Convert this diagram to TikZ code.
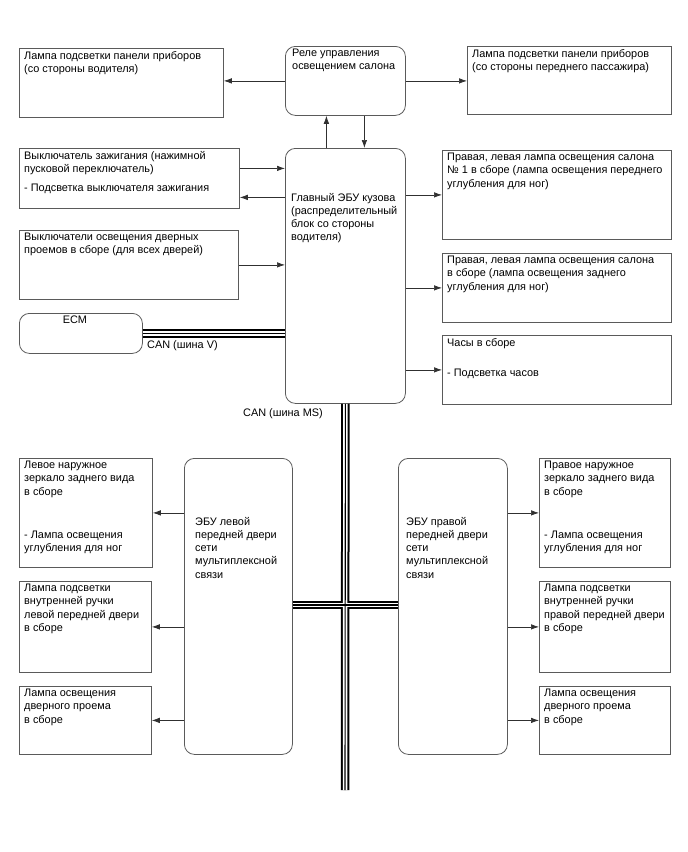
\documentclass[tikz,border=0pt]{standalone}
\usepackage{fontspec}
\setmainfont{Liberation Sans}
\usetikzlibrary{arrows.meta, positioning}
\definecolor{boxLine}{HTML}{5A5A5A}
\definecolor{wireDark}{HTML}{303030}

\begin{document}
\begin{tikzpicture}[
    x=1pt, y=-1pt,
    unit/.style={rectangle, draw=boxLine, line width=0.8pt, anchor=north west,
                 inner sep=0pt},
    ecu/.style={unit, rounded corners=10pt},
    txt/.style={anchor=north west, align=left, inner xsep=5pt, inner ysep=3pt,
                font=\fontsize{10.9}{13.2}\selectfont},
    feed/.style={draw=wireDark, line width=0.7pt, -{Latex[length=8pt, width=5.5pt]}},
    busOuter/.style={line width=8.5pt, black},
    busGap/.style={line width=4.5pt, white},
    busCore/.style={line width=1.1pt, black},
  ]
    \useasboundingbox (0,0) rectangle (688,852);

    % top row
    \node[unit, minimum width=204, minimum height=69,
          label={[txt]north west:{Лампа подсветки панели приборов\\(со стороны водителя)}}]
          (lampDrv) at (19,48) {};
    \node[ecu, minimum width=120, minimum height=69,
          label={[txt, xshift=2pt]north west:{Реле управления\\освещением салона}}]
          (relay) at (285,46) {};
    \node[unit, minimum width=204, minimum height=68,
          label={[txt]north west:{Лампа подсветки панели приборов\\(со стороны переднего пассажира)}}]
          (lampPas) at (467,46) {};

    % body ECU and its neighbours
    \node[ecu, minimum width=120, minimum height=255,
          label={[txt, xshift=1pt, yshift=-42pt]north west:{Главный ЭБУ кузова\\(распределительный\\блок со стороны\\водителя)}}]
          (bodyEcu) at (285,148) {};
    \node[unit, minimum width=220, minimum height=60,
          label={[txt]north west:{Выключатель зажигания (нажимной\\пусковой переключатель)\\[6pt]- Подсветка выключателя зажигания}}]
          (ignSw) at (19,148) {};
    \node[unit, minimum width=219, minimum height=69,
          label={[txt]north west:{Выключатели освещения дверных\\проемов в сборе (для всех дверей)}}]
          (doorSw) at (19,230) {};
    \node[ecu, minimum width=123, minimum height=40,
          label={[txt, anchor=north, xshift=-6pt]north:{ECM}}]
          (ecm) at (19,313) {};
    \node[unit, minimum width=229, minimum height=89,
          label={[txt]north west:{Правая, левая лампа освещения салона\\№ 1 в сборе (лампа освещения переднего\\углубления для ног)}}]
          (footF) at (442,150) {};
    \node[unit, minimum width=229, minimum height=69,
          label={[txt]north west:{Правая, левая лампа освещения салона\\в сборе (лампа освещения заднего\\углубления для ног)}}]
          (footR) at (442,253) {};
    \node[unit, minimum width=229, minimum height=69,
          label={[txt]north west:{Часы в сборе\\[17pt]- Подсветка часов}}]
          (clock) at (442,335) {};

    % door ECUs
    \node[ecu, minimum width=108, minimum height=296,
          label={[txt, xshift=6pt, yshift=-56pt]north west:{ЭБУ левой\\передней двери\\сети\\мультиплексной\\связи}}]
          (doorEcuL) at (184,458) {};
    \node[ecu, minimum width=109, minimum height=296,
          label={[txt, xshift=3pt, yshift=-56pt]north west:{ЭБУ правой\\передней двери\\сети\\мультиплексной\\связи}}]
          (doorEcuR) at (398,458) {};

    \node[unit, minimum width=133, minimum height=109,
          label={[txt]north west:{Левое наружное\\зеркало заднего вида\\в сборе\\[30pt]- Лампа освещения\\углубления для ног}}]
          (mirrorL) at (19,458) {};
    \node[unit, minimum width=132, minimum height=91,
          label={[txt]north west:{Лампа подсветки\\внутренней ручки\\левой передней двери\\в сборе}}]
          (handleL) at (19,581) {};
    \node[unit, minimum width=132, minimum height=68,
          label={[txt]north west:{Лампа освещения\\дверного проема\\в сборе}}]
          (courtesyL) at (19,686) {};
    \node[unit, minimum width=131, minimum height=109,
          label={[txt]north west:{Правое наружное\\зеркало заднего вида\\в сборе\\[30pt]- Лампа освещения\\углубления для ног}}]
          (mirrorR) at (539,458) {};
    \node[unit, minimum width=131, minimum height=91,
          label={[txt]north west:{Лампа подсветки\\внутренней ручки\\правой передней двери\\в сборе}}]
          (handleR) at (539,581) {};
    \node[unit, minimum width=131, minimum height=68,
          label={[txt]north west:{Лампа освещения\\дверного проема\\в сборе}}]
          (courtesyR) at (539,686) {};

    % buses
    \coordinate (busEnd) at (345,790);
    \coordinate (busX) at (345,605);
    \foreach \s in {busOuter, busGap, busCore} {
      \draw[\s] (ecm.east) -- (ecm.east -| bodyEcu.west);
      \draw[\s] (bodyEcu.south) -- (busEnd);
      \draw[\s] (doorEcuL.east |- busX) -- (doorEcuR.west |- busX);
    }
    \node[txt, inner ysep=0pt] (canV) at (142,340) {CAN (шина V)};
    \node[txt, anchor=north east, inner ysep=0pt] (canMS) at (328,408) {CAN (шина MS)};

    % signal lines
    \draw[feed] (relay.west) -- (relay.west -| lampDrv.east);
    \draw[feed] (relay.east) -- (relay.east -| lampPas.west);
    \draw[feed] ([xshift=-19pt]bodyEcu.north) -- ([xshift=-19pt]bodyEcu.north |- relay.south);
    \draw[feed] ([xshift=19pt]relay.south) -- ([xshift=19pt]relay.south |- bodyEcu.north);
    \draw[feed] ([yshift=10pt]ignSw.east) -- ([yshift=10pt]ignSw.east -| bodyEcu.west);
    \draw[feed] ([yshift=-19pt]ignSw.east -| bodyEcu.west) -- ([yshift=-19pt]ignSw.east);
    \draw[feed] (doorSw.east) -- (doorSw.east -| bodyEcu.west);
    \draw[feed] (footF.west -| bodyEcu.east) -- (footF.west);
    \draw[feed] (footR.west -| bodyEcu.east) -- (footR.west);
    \draw[feed] (clock.west -| bodyEcu.east) -- (clock.west);

    \draw[feed] (mirrorL.east -| doorEcuL.west) -- (mirrorL.east);
    \draw[feed] (handleL.east -| doorEcuL.west) -- (handleL.east);
    \draw[feed] (courtesyL.east -| doorEcuL.west) -- (courtesyL.east);
    \draw[feed] (mirrorR.west -| doorEcuR.east) -- (mirrorR.west);
    \draw[feed] (handleR.west -| doorEcuR.east) -- (handleR.west);
    \draw[feed] (courtesyR.west -| doorEcuR.east) -- (courtesyR.west);
  \end{tikzpicture}
\end{document}
